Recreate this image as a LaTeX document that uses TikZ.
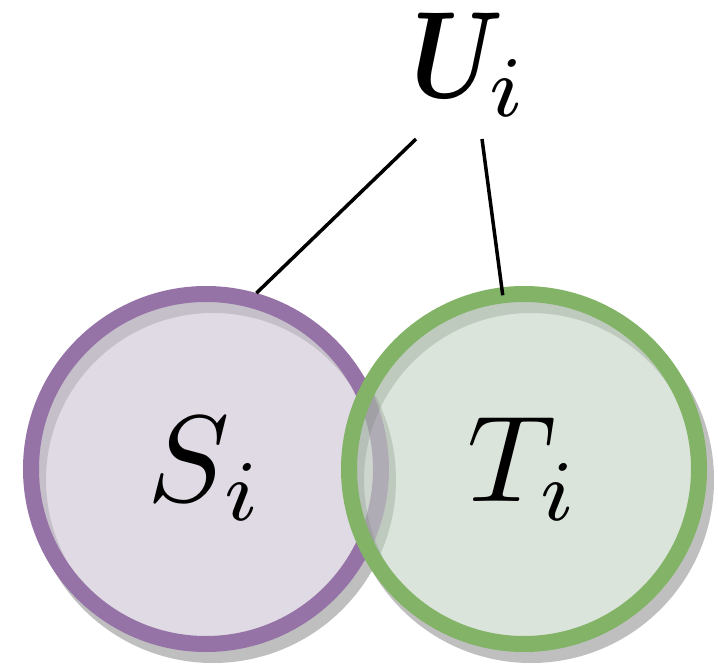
\documentclass[tikz,border=0pt]{standalone}
\usepackage{graphicx}
\usepackage{bm}
\definecolor{pstroke}{HTML}{9673A6}
\definecolor{pfill}{HTML}{CBC1D2}
\definecolor{gstroke}{HTML}{82B366}
\definecolor{gfill}{HTML}{C1D2C1}
\newcommand{\bigmath}[1]{\scalebox{12.3}{$#1$}}
\begin{document}
\begin{tikzpicture}[x=1pt,y=-1pt,
  shadowring/.style={draw=black, draw opacity=0.25, line width=16pt},
  setcircle/.style={circle, minimum size=350pt, inner sep=0pt, line width=16pt,
    fill opacity=0.6, text opacity=1},
  link/.style={line width=3.5pt}]
\useasboundingbox (0,0) rectangle (719,671);
\draw[shadowring] (213,480) circle[radius=175pt];
\node[setcircle, draw=pstroke, fill=pfill] (S) at (206,469) {\bigmath{S_i}};
\draw[shadowring] (531,480) circle[radius=175pt];
\node[setcircle, draw=gstroke, fill=gfill] (T) at (524,469) {\bigmath{T_i}};
\node[inner sep=0pt, anchor=base west] (U) at (411,98)
  {\bigmath{\scalebox{0.82}[1]{$\bm{U}$}\kern-1.2pt_i}};
\coordinate (u1) at (416,139);
\coordinate (u2) at (482,139);
\draw[link] (u1) -- (S.74);
\draw[link, shorten >=-8pt] (u2) -- (T.97);
\end{tikzpicture}
\end{document}
